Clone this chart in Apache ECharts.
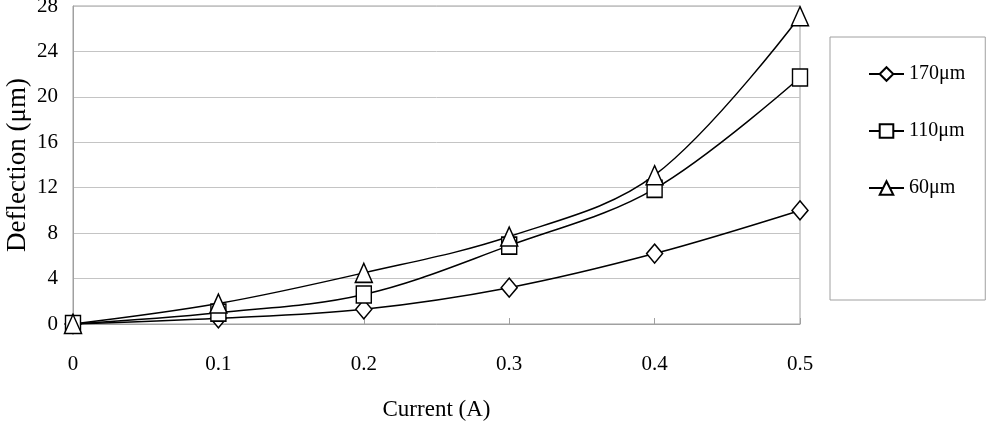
<!DOCTYPE html>
<html>
<head>
<meta charset="utf-8">
<script src="https://cdn.jsdelivr.net/npm/echarts@6/dist/echarts.min.js"></script>
<style>html,body{margin:0;padding:0;background:#fff}#c{width:1000px;height:425px}</style>
</head>
<body>
<div id="c"></div>
<script>
const categories = ['0', '0.1', '0.2', '0.3', '0.4', '0.5'];
const s170 = [0, 0.5, 1.3, 3.2, 6.2, 10.0];
const s110 = [0, 1.0, 2.6, 6.9, 11.9, 21.7];
const s60 = [0, 1.8, 4.5, 7.7, 13.1, 27.1];
const seriesNames = ['170μm', '110μm', '60μm'];
const yTicks = [0, 4, 8, 12, 16, 20, 24, 28];

const font = 'Liberation Serif, Times New Roman, serif';
function mk(name, data, symbol, size) {
  return {
    name: name, type: 'line', data: data, smooth: 0.35,
    symbol: symbol, symbolSize: size, showSymbol: true,
    lineStyle: { color: '#000', width: 1.5 },
    itemStyle: { color: '#fff', borderColor: '#000', borderWidth: 1.5 },
    emphasis: { disabled: true }, animation: false
  };
}
const chart = echarts.init(document.getElementById('c'), null, { renderer: 'canvas' });
chart.setOption({
  backgroundColor: '#fff',
  animation: false,
  textStyle: { fontFamily: font, color: '#000' },
  grid: { left: 73, right: 200, top: 6, bottom: 101, show: true, borderColor: '#a0a0a0', borderWidth: 1, containLabel: false, outerBoundsMode: 'none' },
  legend: {
    orient: 'vertical', left: 830, top: 37,
    padding: [27, 20, 102, 38],
    itemWidth: 35, itemHeight: 17, itemGap: 37,
    borderColor: '#a0a0a0', borderWidth: 1,
    textStyle: { fontFamily: font, fontSize: 20, color: '#000' },
    data: seriesNames
  },
  xAxis: {
    type: 'category', data: categories, boundaryGap: false,
    name: 'Current (A)', nameLocation: 'middle', nameGap: 74, nameMoveOverlap: false,
    nameTextStyle: { fontFamily: font, fontSize: 23, color: '#000' },
    axisLine: { lineStyle: { color: '#a0a0a0', width: 1 } },
    axisTick: { show: true, inside: true, length: 6, lineStyle: { color: '#a0a0a0' } },
    axisLabel: { fontFamily: font, fontSize: 21, color: '#000', margin: 30 },
    splitLine: { show: false }
  },
  yAxis: {
    type: 'value', min: 0, max: 28, interval: 4,
    name: 'Deflection (μm)', nameLocation: 'middle', nameGap: 42, nameRotate: 90, nameMoveOverlap: false,
    nameTextStyle: { fontFamily: font, fontSize: 27, color: '#000' },
    axisLine: { show: true, lineStyle: { color: '#a0a0a0', width: 1 } },
    axisTick: { show: false },
    axisLabel: { fontFamily: font, fontSize: 21, color: '#000', margin: 15,
      formatter: v => yTicks.includes(v) ? String(v) : '' },
    splitLine: { show: true, lineStyle: { color: '#c4c4c4', width: 1 } }
  },
  series: [
    mk(seriesNames[0], s170, 'diamond', [16, 19]),
    mk(seriesNames[1], s110, 'rect', [15, 17]),
    mk(seriesNames[2], s60, 'triangle', [17, 19])
  ]
});
</script>
</body>
</html>
